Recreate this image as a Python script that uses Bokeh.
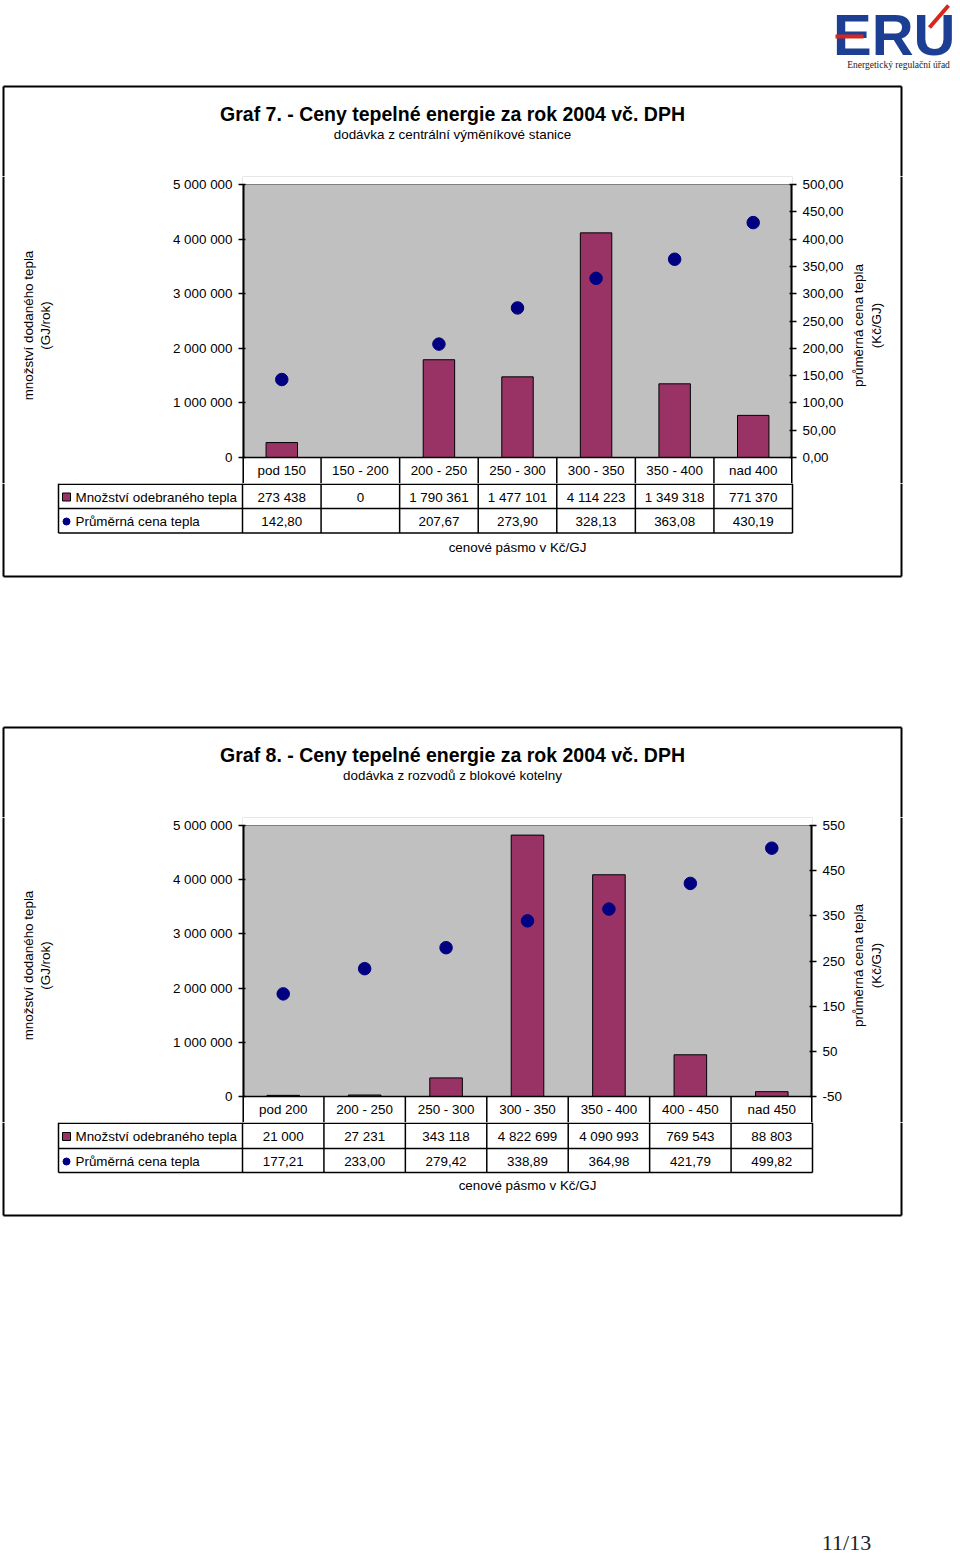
import math
from bokeh.plotting import figure
from bokeh.models import Range1d, LinearAxis, FixedTicker
from bokeh.layouts import column, row
from bokeh.core.properties import value
from bokeh.embed import file_html
from bokeh.resources import INLINE

# ---------------- data ----------------
cats1 = ["pod 150", "150 - 200", "200 - 250", "250 - 300", "300 - 350", "350 - 400", "nad 400"]
qty1 = [273438, 0, 1790361, 1477101, 4114223, 1349318, 771370]
price1 = [142.80, None, 207.67, 273.90, 328.13, 363.08, 430.19]

cats2 = ["pod 200", "200 - 250", "250 - 300", "300 - 350", "350 - 400", "400 - 450", "nad 450"]
qty2 = [21000, 27231, 343118, 4822699, 4090993, 769543, 88803]
price2 = [177.21, 233.00, 279.42, 338.89, 364.98, 421.79, 499.82]

qty_ticks = [0, 1000000, 2000000, 3000000, 4000000, 5000000]
price_ticks1 = [0, 50, 100, 150, 200, 250, 300, 350, 400, 450, 500]
price_ticks2 = [-50, 50, 150, 250, 350, 450, 550]

title1 = "Graf 7. - Ceny tepelné energie za rok 2004 vč. DPH"
subtitle1 = "dodávka z centrální výměníkové stanice"
title2 = "Graf 8. - Ceny tepelné energie za rok 2004 vč. DPH"
subtitle2 = "dodávka z rozvodů z blokové kotelny"
row_names = ["Množství odebraného tepla", "Průměrná cena tepla"]
left_label = ["množství dodaného tepla", "(GJ/rok)"]
right_label = ["průměrná cena tepla", "(Kč/GJ)"]
x_title = "cenové pásmo v Kč/GJ"
page_no = "11/13"

FONT = "Liberation Sans"
BAR = "#993366"
DOT = "#000080"
PLOTBG = "#C0C0C0"
FS = "13.4px"
W = 960
LEFT_W = 150      # width of the left side strip
CHART_W = 698     # width of the chart figure
PLOT_X0 = 242     # page x of plot area left edge
TOP_PAD = 8       # frame space above the plot area (room for the top tick label)
HDR = 26          # height of the table header row (inside the chart frame)


def fmt_qty(v):
    return f"{v:,}".replace(",", " ")


def fmt_price(v, dec=2):
    return "" if v is None else f"{v:.{dec}f}".replace(".", ",")


def blank(w, h, xr, yr):
    p = figure(width=w, height=h, x_range=Range1d(*xr), y_range=Range1d(*yr),
               x_axis_location=None, y_axis_location=None, min_border=0,
               outline_line_color=None, toolbar_location=None, output_backend="svg",
               background_fill_color="white", border_fill_color="white")
    p.grid.visible = False
    return p


def txt(p, x, y, t, size=FS, align="center", bold=False, angle=0.0, font=FONT, color="black"):
    p.text(x=x if isinstance(x, list) else [x], y=y if isinstance(y, list) else [y],
           text=t if isinstance(t, list) else [t], angle=angle,
           text_font=value(font), text_font_size=value(size), text_align=align,
           text_baseline="middle", text_color=color,
           text_font_style="bold" if bold else "normal")


def lines(p, segs, width=1.5, color="black", **kw):
    p.segment(x0=[s[0] for s in segs], y0=[s[1] for s in segs],
              x1=[s[2] for s in segs], y1=[s[3] for s in segs],
              line_color=color, line_width=width, **kw)


def style_axis(ax):
    ax.axis_line_color = None
    ax.major_tick_line_color = "black"
    ax.major_tick_line_width = 1.5
    ax.major_tick_in = 3
    ax.major_tick_out = 4
    ax.minor_tick_line_color = None
    ax.major_label_text_font = FONT
    ax.major_label_text_font_size = FS
    ax.major_label_text_color = "black"
    ax.major_label_standoff = 6


def chart(cats, qty, price, prange, pticks, pdec, plot_w, plot_h):
    n = len(cats)
    ymax = qty_ticks[-1]
    k = ymax / plot_h
    ylo, yhi = -HDR * k, ymax + TOP_PAD * k
    pk = (prange[1] - prange[0]) / plot_h
    p = figure(x_range=Range1d(0, n), y_range=Range1d(ylo, yhi),
               frame_width=plot_w, frame_height=TOP_PAD + plot_h + HDR,
               min_border_left=PLOT_X0 - LEFT_W, min_border_right=CHART_W - (PLOT_X0 - LEFT_W) - plot_w,
               min_border_top=0, min_border_bottom=0, x_axis_location=None,
               output_backend="svg", toolbar_location=None, title=None,
               background_fill_color=PLOTBG, border_fill_color="white",
               outline_line_color=None)
    p.grid.visible = False
    p.extra_y_ranges = {"price": Range1d(prange[0] - HDR * pk, prange[1] + TOP_PAD * pk)}
    xs = [i + 0.5 for i in range(n)]
    # white areas: table header row below, padding above
    p.quad(left=[0, 0], right=[n, n], bottom=[ylo, ymax], top=[0, yhi],
           fill_color="white", line_color=None)
    p.vbar(x=xs, top=qty, width=0.4, fill_color=BAR, line_color="black", line_width=1)
    pv = [float("nan") if v is None else v for v in price]
    p.scatter(x=xs, y=pv, y_range_name="price", size=12.5, fill_color=DOT, line_color=DOT)
    # plot area top border
    lines(p, [(0, ymax, n, ymax)], width=1, color="#808080")
    # table header grid
    lines(p, [(0, 0, n, 0)] + [(i, ylo, i, 0) for i in range(1, n)])
    lines(p, [(0, ylo, 0, 0), (n, ylo, n, 0)], width=3)
    # axis lines (left / right edges of plot area)
    lines(p, [(0, 0, 0, ymax), (n, 0, n, ymax)], width=4)
    txt(p, xs, [ylo / 2] * n, list(cats))

    ly = p.yaxis[0]
    style_axis(ly)
    ly.ticker = FixedTicker(ticks=qty_ticks)
    ly.major_label_overrides = {t: fmt_qty(t) for t in qty_ticks}
    ry = LinearAxis(y_range_name="price", ticker=FixedTicker(ticks=pticks),
                    major_label_overrides={t: fmt_price(t, pdec) for t in pticks})
    style_axis(ry)
    p.add_layout(ry, "right")
    return p, TOP_PAD + plot_h + HDR


def side(h, top, xr, labels, label_xs, label_cy, box_x):
    p = blank(xr[1] - xr[0], h, xr, (top + h, top))
    lines(p, [(box_x, top, box_x, top + h)], width=2)
    for t, lx in zip(labels, label_xs):
        txt(p, lx, label_cy, t, angle=math.pi / 2)
    return p


def table(p, n, X, qty, price, row_top, row_mid, row_bot, txt_ys, xtitle_y, box_bottom, fig_top):
    segs = [(X(58), row_top, n, row_top), (X(58), row_mid, n, row_mid), (X(58), row_bot, n, row_bot),
            (X(58), fig_top, X(58), row_bot)]
    segs += [(i, fig_top, i, row_bot) for i in range(n + 1)]
    lines(p, segs)
    xs = [i + 0.5 for i in range(n)]
    txt(p, xs, [txt_ys[0]] * n, [fmt_qty(v) for v in qty])
    txt(p, xs, [txt_ys[1]] * n, [fmt_price(v) for v in price])
    for ty, name in zip(txt_ys, row_names):
        txt(p, X(75), ty, name, align="left")
    p.scatter(x=[X(66)], y=[txt_ys[0]], marker="square", size=8, fill_color=BAR, line_color="black")
    p.scatter(x=[X(66)], y=[txt_ys[1]], size=7, fill_color=DOT, line_color=DOT)
    txt(p, n / 2, xtitle_y, x_title)
    lines(p, [(X(3), fig_top, X(3), box_bottom), (X(901), fig_top, X(901), box_bottom),
              (X(3), box_bottom, X(901), box_bottom)], width=2)


# ---------- chart 1 ----------
n1 = len(cats1)
colw1 = 550 / n1
def X1(px):
    return (px - PLOT_X0) / colw1

F0_H = 184 - TOP_PAD           # 176
f0 = blank(W, F0_H, (0, W), (F0_H, 0))
txt(f0, 955, 34, "ERU", size="58px", align="right", bold=True, color="#1c3f94")
lines(f0, [(835, 36, 863, 36), (929, 27, 948, 5)], width=4, color="#d9261c")
txt(f0, 898, 64, "Energetický regulační úřad", size="9.5px", font="Liberation Serif", color="#222222")
lines(f0, [(3, 86, 901, 86), (3, 86, 3, F0_H), (901, 86, 901, F0_H)], width=2)
txt(f0, 452, 113, title1, size="19.5px", bold=True)
txt(f0, 452, 134, subtitle1)

c1, C1_H = chart(cats1, qty1, price1, (0, 500), price_ticks1, 2, 550, 273)
l1 = side(C1_H, F0_H, (0, LEFT_W), left_label, [28, 45], 325, 3)
r1 = side(C1_H, F0_H, (LEFT_W + CHART_W, W), right_label, [858, 876], 325, 901)

# middle strip: chart 1 table + chart 2 title
M_TOP = F0_H + C1_H            # 483
C2_TOP = 825 - TOP_PAD         # 817
M_H = C2_TOP - M_TOP
f1 = blank(W, M_H, (X1(0), X1(W)), (M_TOP + M_H, M_TOP))
table(f1, n1, X1, qty1, price1, M_TOP + 0.75, 508, 532.5, [496.5, 521], 547, 576, M_TOP)
lines(f1, [(X1(3), 727, X1(901), 727), (X1(3), 727, X1(3), C2_TOP),
           (X1(901), 727, X1(901), C2_TOP)], width=2)
txt(f1, X1(452), 754, title2, size="19.5px", bold=True)
txt(f1, X1(452), 775, subtitle2)

# ---------- chart 2 ----------
n2 = len(cats2)
colw2 = 570 / n2
def X2(px):
    return (px - PLOT_X0) / colw2

c2, C2_H = chart(cats2, qty2, price2, (-50, 550), price_ticks2, 0, 570, 271)
l2 = side(C2_H, C2_TOP, (0, LEFT_W), left_label, [28, 45], 965, 3)
r2 = side(C2_H, C2_TOP, (LEFT_W + CHART_W, W), right_label, [858, 876], 965, 901)

B_TOP = C2_TOP + C2_H          # 1122
B_H = 1556 - B_TOP
f2 = blank(W, B_H, (X2(0), X2(W)), (B_TOP + B_H, B_TOP))
table(f2, n2, X2, qty2, price2, B_TOP + 0.75, 1148, 1172, [1136, 1161], 1185, 1215, B_TOP)
txt(f2, X2(846), 1542, page_no, size="22px", font="Liberation Serif", color="#222222")

layout = column(f0, row(l1, c1, r1, spacing=0), f1, row(l2, c2, r2, spacing=0), f2, spacing=0)
open("out.html", "w").write(file_html(layout, INLINE))
